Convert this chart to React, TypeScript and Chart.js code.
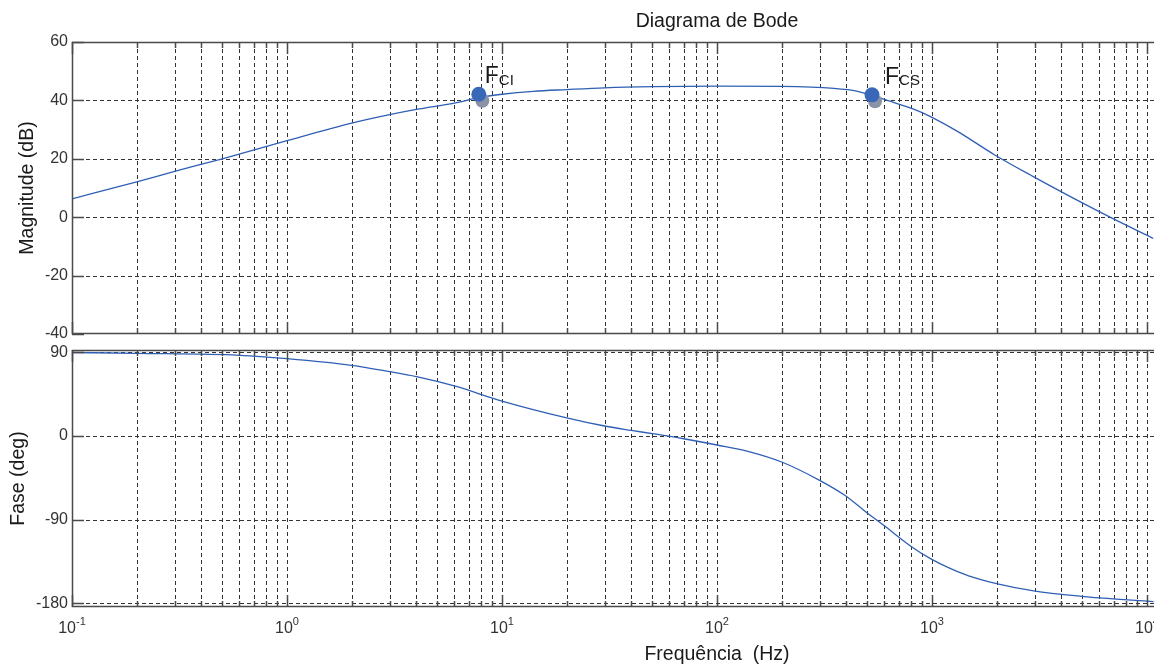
import React, { useEffect, useRef } from 'react';
import { Chart, registerables } from 'chart.js';

Chart.register(...registerables);

// ---- Data ----
const magFreq = [0.1, 0.2, 0.3, 0.5, 1, 2, 3, 4, 6, 8, 10, 14, 20, 30, 50, 100, 200, 350, 450, 530, 620, 850, 1000, 1320, 1950, 2960, 5030, 6730, 10700];
const magDb = [6.3, 12.1, 15.7, 20.0, 26.2, 32.2, 35.1, 36.9, 39.1, 41.1, 42.1, 43.1, 43.7, 44.3, 44.7, 44.9, 44.8, 44.1, 43.1, 41.6, 40.0, 36.6, 34.2, 29.3, 21.4, 13.9, 4.8, 0.0, -7.3];

const phaseFreq = [0.1, 0.2, 0.6, 1, 2, 3, 4, 6, 10, 20, 29.6, 40, 51, 70, 100, 142, 200, 300, 393, 493, 596, 806, 993, 1200, 1479, 1995, 2972, 4954, 7800, 10720];
const phaseDeg = [89.8, 88.9, 86.8, 83.2, 76, 69.2, 63.8, 53.8, 37.6, 19.5, 11, 6.0, 2.2, -3, -9.7, -17, -28, -47.7, -63.8, -81.8, -96.1, -119.4, -132.5, -142, -150.5, -158.8, -166.7, -172.5, -176, -178.2];

const markerFreq = [7.8, 526];
const markerDb = [42.1, 41.9];
const shadowFreq = [8.1, 543];
const shadowDb = [39.9, 39.7];
const markerSub = ['CI', 'CS'];
const markerMain = 'F';

const magTicks = [-40, -20, 0, 20, 40, 60];
const phaseTicks = [-180, -90, 0, 90];
const decadeExps = [-1, 0, 1, 2, 3, 4, 5];

const TITLE = 'Diagrama de Bode';
const MAG_LABEL = 'Magnitude (dB)';
const PHASE_LABEL = 'Fase (deg)';
const FREQ_LABEL = 'Frequência  (Hz)';

// ---- Styles ----
const FONT = '"Liberation Sans", Arial, sans-serif';
const TEXT = '#1a1a1a';
const GRID = '#333333';
const AXIS = '#4a4a4a';
const LINE = '#2f5fb5';
const DOT = '#3a68b8';
const SHADOW = '#8a93a6';
const W = 1372;
const LABEL_SIZE = 19.5;
const MARKER_LABEL_DX = [6, 13];

Chart.defaults.font.family = FONT;

const xGridValues: number[] = [];
for (let e = -1; e <= 4; e++) {
  for (let m = 1; m <= 9; m++) xGridValues.push(m * Math.pow(10, e));
}
xGridValues.push(1e5);

function makeAxesPlugin(yVals: number[]) {
  return {
    id: 'matlabAxes',
    beforeDatasetsDraw(chart: any) {
      const { ctx, chartArea: a, scales } = chart;
      const xs = scales.x;
      const ys = scales.y;
      ctx.save();
      ctx.beginPath();
      ctx.rect(a.left, a.top, a.right - a.left, a.bottom - a.top);
      ctx.clip();
      ctx.strokeStyle = GRID;
      ctx.lineWidth = 1;
      ctx.setLineDash([4, 3]);
      for (const v of xGridValues) {
        const px = Math.round(xs.getPixelForValue(v)) + 0.5;
        if (px <= a.left + 1 || px >= a.right - 1) continue;
        ctx.beginPath();
        ctx.moveTo(px, a.top);
        ctx.lineTo(px, a.bottom);
        ctx.stroke();
      }
      for (const v of yVals) {
        const py = Math.round(ys.getPixelForValue(v)) + 0.5;
        if (py <= a.top + 1 || py >= a.bottom - 1) continue;
        ctx.beginPath();
        ctx.moveTo(a.left, py);
        ctx.lineTo(a.right, py);
        ctx.stroke();
      }
      ctx.restore();
    },
    afterDatasetsDraw(chart: any) {
      const { ctx, chartArea: a, scales } = chart;
      const xs = scales.x;
      const ys = scales.y;
      ctx.save();
      ctx.setLineDash([]);
      ctx.strokeStyle = AXIS;
      ctx.lineWidth = 1.5;
      for (const v of xGridValues) {
        const px = Math.round(xs.getPixelForValue(v)) + 0.5;
        const major = Math.abs(Math.log10(v) - Math.round(Math.log10(v))) < 1e-9;
        const len = major ? 12 : 6;
        ctx.beginPath();
        ctx.moveTo(px, a.top);
        ctx.lineTo(px, a.top + len);
        ctx.moveTo(px, a.bottom);
        ctx.lineTo(px, a.bottom - len);
        ctx.stroke();
      }
      for (const v of yVals) {
        const py = Math.round(ys.getPixelForValue(v)) + 0.5;
        ctx.beginPath();
        ctx.moveTo(a.left, py);
        ctx.lineTo(a.left + 12, py);
        ctx.moveTo(a.right, py);
        ctx.lineTo(a.right - 12, py);
        ctx.stroke();
      }
      ctx.beginPath();
      ctx.rect(a.left + 0.5, a.top + 0.5, a.right - a.left - 1, a.bottom - a.top - 1);
      ctx.stroke();
      ctx.restore();
    },
  };
}

const markerLabelPlugin = {
  id: 'markerLabels',
  afterDatasetsDraw(chart: any) {
    const { ctx, scales } = chart;
    ctx.save();
    ctx.fillStyle = TEXT;
    ctx.textBaseline = 'alphabetic';
    ctx.textAlign = 'left';
    markerFreq.forEach((f, i) => {
      const px = scales.x.getPixelForValue(f);
      const py = scales.y.getPixelForValue(markerDb[i]);
      ctx.font = `23px ${FONT}`;
      const x0 = px + MARKER_LABEL_DX[i];
      const y0 = py - 11;
      ctx.fillText(markerMain, x0, y0);
      const w = ctx.measureText(markerMain).width;
      ctx.font = `15px ${FONT}`;
      ctx.fillText(markerSub[i], x0 + w, y0 + 1.5);
    });
    ctx.restore();
  },
};

const xTickLabelPlugin = {
  id: 'xTickLabels',
  afterDraw(chart: any) {
    const { ctx, chartArea: a, scales } = chart;
    ctx.save();
    ctx.fillStyle = '#333';
    ctx.textBaseline = 'alphabetic';
    ctx.textAlign = 'left';
    for (const e of decadeExps) {
      const px = scales.x.getPixelForValue(Math.pow(10, e));
      ctx.font = `16px ${FONT}`;
      const w1 = ctx.measureText('10').width;
      ctx.font = `11px ${FONT}`;
      const exp = String(e);
      const w2 = ctx.measureText(exp).width;
      const left = px - (w1 + w2) / 2;
      ctx.font = `16px ${FONT}`;
      ctx.fillText('10', left, a.bottom + 26);
      ctx.font = `11px ${FONT}`;
      ctx.fillText(exp, left + w1, a.bottom + 18);
    }
    ctx.restore();
  },
};

function yAxis(min: number, max: number, ticks: number[], label: string, titlePad: number) {
  return {
    type: 'linear',
    min,
    max,
    grid: { display: false, drawTicks: false },
    border: { display: false },
    ticks: { font: { size: 16 }, color: '#333', padding: 4 },
    afterBuildTicks: (s: any) => {
      s.ticks = ticks.map((v) => ({ value: v }));
    },
    afterFit: (s: any) => {
      s.width = 72;
      s.paddingTop = 0;
      s.paddingBottom = 0;
    },
    title: {
      display: true,
      text: label,
      font: { size: LABEL_SIZE },
      color: TEXT,
      padding: { top: titlePad, bottom: 0 },
    },
  };
}

export default function App() {
  const magRef = useRef<HTMLCanvasElement>(null);
  const phRef = useRef<HTMLCanvasElement>(null);

  useEffect(() => {
    const magChart = new Chart(magRef.current as HTMLCanvasElement, {
      type: 'line',
      data: {
        datasets: [
          {
            data: markerFreq.map((f, i) => ({ x: f, y: markerDb[i] })),
            showLine: false,
            pointRadius: 7.5,
            pointBackgroundColor: DOT,
            pointBorderWidth: 0,
            order: 0,
          },
          {
            data: shadowFreq.map((f, i) => ({ x: f, y: shadowDb[i] })),
            showLine: false,
            pointRadius: 7,
            pointBackgroundColor: SHADOW,
            pointBorderWidth: 0,
            order: 1,
          },
          {
            data: magFreq.map((f, i) => ({ x: f, y: magDb[i] })),
            borderColor: LINE,
            borderWidth: 1.3,
            pointRadius: 0,
            cubicInterpolationMode: 'monotone',
            order: 2,
          },
        ],
      },
      options: {
        responsive: false,
        animation: false,
        events: [],
        layout: { padding: { left: 0, right: 10, top: 0, bottom: 0 } },
        plugins: {
          legend: { display: false },
          tooltip: { enabled: false },
          title: {
            display: true,
            text: TITLE,
            fullSize: false,
            font: { size: LABEL_SIZE, weight: 'normal', lineHeight: 1.2 },
            color: TEXT,
            padding: { top: 10, bottom: 8.6 },
          },
        },
        scales: {
          x: {
            type: 'logarithmic',
            min: 0.1,
            max: 1e5,
            grid: { display: false },
            border: { display: false },
            ticks: { display: false },
            afterFit: (s: any) => {
              s.height = 8;
              s.paddingLeft = 0;
              s.paddingRight = 0;
            },
          },
          y: yAxis(-40, 60, magTicks, MAG_LABEL, 16),
        },
      } as any,
      plugins: [makeAxesPlugin(magTicks), markerLabelPlugin],
    });

    const phChart = new Chart(phRef.current as HTMLCanvasElement, {
      type: 'line',
      data: {
        datasets: [
          {
            data: phaseFreq.map((f, i) => ({ x: f, y: phaseDeg[i] })),
            borderColor: LINE,
            borderWidth: 1.3,
            pointRadius: 0,
            cubicInterpolationMode: 'monotone',
          },
        ],
      },
      options: {
        responsive: false,
        animation: false,
        events: [],
        layout: { padding: { left: 0, right: 10, top: 8, bottom: 0 } },
        plugins: {
          legend: { display: false },
          tooltip: { enabled: false },
        },
        scales: {
          x: {
            type: 'logarithmic',
            min: 0.1,
            max: 1e5,
            grid: { display: false },
            border: { display: false },
            ticks: { display: false },
            title: {
              display: true,
              text: FREQ_LABEL,
              font: { size: LABEL_SIZE, lineHeight: 1.0 },
              color: TEXT,
              padding: { top: 0, bottom: 0 },
            },
            afterFit: (s: any) => {
              s.height = 57;
              s.paddingLeft = 0;
              s.paddingRight = 0;
            },
          },
          y: yAxis(-184, 92.5, phaseTicks, PHASE_LABEL, 7),
        },
      } as any,
      plugins: [makeAxesPlugin(phaseTicks), xTickLabelPlugin],
    });

    return () => {
      magChart.destroy();
      phChart.destroy();
    };
  }, []);

  return (
    <div
      style={{
        position: 'absolute',
        left: 0,
        top: 0,
        width: 1154,
        height: 664,
        overflow: 'hidden',
        background: '#fff',
      }}
    >
      <canvas
        ref={magRef}
        width={W}
        height={342}
        style={{ position: 'absolute', left: 0, top: 0, width: W, height: 342, display: 'block' }}
      />
      <canvas
        ref={phRef}
        width={W}
        height={322}
        style={{ position: 'absolute', left: 0, top: 342, width: W, height: 322, display: 'block' }}
      />
    </div>
  );
}
